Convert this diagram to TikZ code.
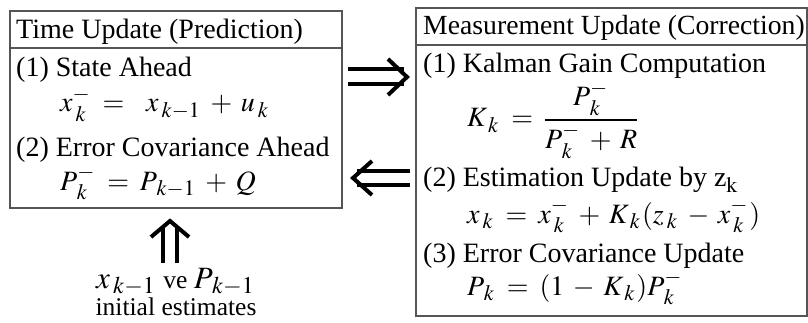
\documentclass[tikz,border=0pt]{standalone}
\usepackage{mathptmx}
\usepackage[no-math]{fontspec}
\setmainfont{Liberation Serif}
\usetikzlibrary{calc}
\DeclareMathSizes{28}{28}{22}{16}
\DeclareMathSizes{31}{31}{24}{18}
\definecolor{boxgray}{HTML}{555555}
\newcommand{\bigmath}[1]{{\fontsize{31}{36}\selectfont$#1$}}
\newcommand{\eqspacing}{\thickmuskip=7mu\relax\medmuskip=5.5mu\relax\scriptspace=2pt\relax}
\newcommand{\sk}{\mkern2.5mu k}
\begin{document}
\begin{tikzpicture}[x=1pt,y=-1pt,
  panel/.style={draw=boxgray, line width=1.5pt, inner sep=0pt, outer sep=0pt, anchor=north west},
  divider/.style={draw=boxgray, line width=1.5pt},
  txt/.style={anchor=base west, inner sep=0pt, font=\fontsize{28}{33}\selectfont},
  eqn/.style={anchor=base west, inner sep=0pt, font=\fontsize{28}{33}\selectfont\eqspacing},
  small/.style={anchor=base, inner sep=0pt, font=\fontsize{25.5}{30}\selectfont\eqspacing},
  shaft/.style={line width=4pt},
  chev/.style={line width=4pt, line join=miter}]
\useasboundingbox (0,0) rectangle (808,323);
% panels
\node[panel, minimum width=332pt, minimum height=197pt] (tu) at (10,11) {};
\node[panel, minimum width=391pt, minimum height=308pt] (mu) at (416,8) {};
\draw[divider] ($(tu.north west)+(0,37)$) -- ($(tu.north east)+(0,37)$);
\draw[divider] ($(mu.north west)+(0,37)$) -- ($(mu.north east)+(0,37)$);
% left texts
\node[txt] (th) at (16,39) {Time Update (Prediction)};
\node[txt] (t1) at (16,77) {(1) State Ahead};
\node[eqn] (e1) at (60,112) {$x_{\sk}^- = \; x_{\sk-1} + u_{\sk}$};
\node[txt] (t2) at (16,157) {(2) Error Covariance Ahead};
\node[eqn] (e2) at (60,190) {$P_{\sk}^- = P_{\sk-1} + Q$};
% right texts
\node[txt, font=\fontsize{27.7}{33}\selectfont] (mh) at (423,35) {Measurement Update (Correction)};
\node[txt] (m1) at (423,73) {(1) Kalman Gain Computation};
\node[eqn] (f1) at (467,127) {$\displaystyle K_{\sk} = \frac{P_{\sk}^-}{P_{\sk}^- + R}$};
\node[txt] (m2) at (423,187) {(2) Estimation Update by z$_{\mathrm{k}}$};
\node[eqn] (f2) at (467,223) {$x_{\sk} = x_{\sk}^- + K_{\sk}(z_{\sk} - x_{\sk}^-)$};
\node[txt] (m3) at (423,262) {(3) Error Covariance Update};
\node[eqn] (f3) at (467,295) {$P_{\sk} = (1 - K_{\sk})P_{\sk}^-$};
% bottom label
\node[small] (lab) at (176,288) {\bigmath{x_{\sk-1}} ve \bigmath{P_{\sk-1}}};
\node[small] (ini) at (176,315) {initial estimates};
% arrow: time update => measurement update
\coordinate (A1) at ($(tu.north east)+(0,66)$);
\coordinate (B1) at ($(mu.north west)+(0,69)$);
\draw[shaft] ([shift={(6,-7.5)}]A1) -- ([shift={(-12,-7.5)}]B1);
\draw[shaft] ([shift={(6,7.5)}]A1) -- ([shift={(-12,7.5)}]B1);
\draw[chev] ([shift={(-28,-18)}]B1) -- ([shift={(-9,0)}]B1) -- ([shift={(-28,18)}]B1);
% arrow: measurement update => time update
\coordinate (A2) at ($(tu.north east)+(0,167)$);
\coordinate (B2) at ($(mu.north west)+(0,170)$);
\draw[shaft] ([shift={(15,-7)}]A2) -- ([shift={(-6,-7)}]B2);
\draw[shaft] ([shift={(15,7)}]A2) -- ([shift={(-6,7)}]B2);
\draw[chev] ([shift={(30,-17)}]A2) -- ([shift={(11,0)}]A2) -- ([shift={(30,17)}]A2);
% arrow: initial estimates => time update
\coordinate (C) at ($(tu.south west)+(160,0)$);
\draw[shaft] ([shift={(-7,55)}]C) -- ([shift={(-7,18)}]C);
\draw[shaft] ([shift={(7,55)}]C) -- ([shift={(7,18)}]C);
\draw[chev] ([shift={(-19,29)}]C) -- ([shift={(0,13)}]C) -- ([shift={(19,29)}]C);
\end{tikzpicture}
\end{document}
